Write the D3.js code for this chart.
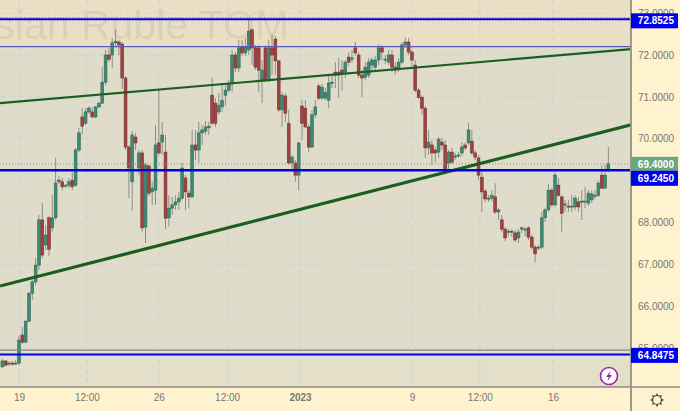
<!DOCTYPE html>
<html>
<head>
<meta charset="utf-8">
<script src="https://cdn.jsdelivr.net/npm/d3@7"></script>
<style>
  html, body { margin: 0; padding: 0; background: #fff2cf; }
  svg { display: block; font-family: "Liberation Sans", Arial, sans-serif; }
</style>
</head>
<body>
<div id="chart-container"></div>
<script>
// Candle values, one slot per bar
const opens = [
  64.55,64.69,64.62,64.64,64.62,64.64,65.31,65.14,65.64,66.31,
  66.58,66.98,68.06,67.46,68.11,67.87,68.11,68.97,68.97,68.87,
  68.89,69.01,68.89,69.73,70.52,70.37,70.64,70.64,70.52,70.76,
  70.85,71.35,72.00,72.00,72.29,72.31,72.26,71.45,69.80,68.97,
  70.04,69.30,69.66,67.89,69.35,68.73,68.77,69.90,69.92,69.68,
  68.11,68.34,68.42,68.49,68.58,69.06,68.70,68.61,69.85,69.73,
  70.14,70.18,70.26,71.04,70.85,70.64,70.76,71.04,71.16,71.31,
  72.00,71.69,72.19,72.05,72.12,72.60,72.17,72.17,71.40,72.17,
  71.40,72.17,72.38,71.86,70.69,71.02,70.37,69.42,69.42,69.13,
  70.78,70.73,70.28,69.80,70.57,71.26,70.97,70.97,70.92,71.33,
  71.59,71.52,71.64,71.59,71.95,71.90,72.17,72.00,71.52,71.47,
  71.52,71.76,71.71,71.88,72.17,71.88,71.83,72.00,71.71,71.69,
  71.83,72.24,72.31,72.07,71.76,71.16,70.99,70.73,69.78,69.85,
  69.73,69.68,69.92,69.85,69.42,69.68,69.56,69.59,69.66,69.85,
  69.90,69.94,69.66,69.54,69.08,68.75,68.56,68.58,68.61,68.25,
  68.06,67.84,67.77,67.77,67.75,67.63,67.84,67.82,67.87,67.65,
  67.41,67.39,67.41,68.11,68.30,68.77,68.42,68.89,68.61,68.42,
  68.39,68.37,68.37,68.49,68.49,68.49,68.46,68.54,68.63,68.65,
  69.13,68.82,69.25
];
const closes = [
  64.69,64.59,64.64,64.62,64.64,65.19,65.14,65.64,66.31,66.58,
  66.98,68.06,67.22,67.70,67.36,68.11,68.94,69.01,68.85,68.89,
  68.97,68.85,69.73,70.14,70.30,70.64,70.73,70.52,70.76,70.85,
  71.35,72.00,71.90,72.29,72.33,72.24,71.45,69.80,69.30,70.09,
  69.90,69.66,67.87,69.37,68.70,68.82,69.85,69.66,70.09,68.10,
  68.34,68.42,68.49,68.58,69.30,68.73,68.61,69.85,69.73,70.14,
  70.21,70.28,70.30,70.37,70.37,70.80,70.92,71.16,71.31,72.00,
  71.69,72.17,72.05,72.19,72.57,72.17,71.71,71.64,71.64,71.40,
  72.17,72.00,71.86,70.69,71.04,70.61,69.42,69.56,69.13,69.90,
  70.37,70.28,69.80,70.57,70.76,70.97,71.23,71.11,71.33,71.35,
  71.52,71.59,71.57,71.83,71.83,71.93,72.05,71.52,71.45,71.71,
  71.83,71.88,71.88,72.17,72.07,71.90,72.00,71.71,71.64,71.83,
  72.24,72.31,72.07,71.88,71.16,70.99,70.73,69.78,69.92,69.66,
  69.66,69.99,69.85,69.25,69.68,69.44,69.59,69.61,69.80,69.78,
  70.21,69.66,69.56,69.13,68.73,68.56,68.58,68.65,68.25,68.30,
  67.84,67.63,67.79,67.79,67.58,67.77,67.87,67.84,67.65,67.41,
  67.25,67.41,68.11,68.30,68.77,68.42,69.13,68.65,68.22,68.44,
  68.37,68.39,68.58,68.37,68.51,68.51,68.70,68.68,68.65,68.94,
  68.82,69.13,69.40
];
const highs = [
  64.74,64.71,64.69,64.69,64.71,65.29,65.50,65.67,66.34,66.62,
  67.15,68.18,68.46,67.94,68.15,68.65,69.54,69.11,69.06,68.92,
  69.06,69.20,69.78,70.26,70.73,70.73,70.78,70.76,70.78,70.88,
  71.71,72.12,72.17,72.41,72.62,72.36,72.31,71.50,69.85,70.18,
  70.14,69.73,69.73,69.42,69.37,68.97,70.33,71.19,70.40,70.09,
  68.65,68.61,68.65,68.73,69.42,69.13,68.77,70.21,70.21,70.40,
  70.33,70.42,70.40,71.45,70.97,71.09,71.31,71.28,71.40,72.12,
  72.07,72.36,72.36,72.41,72.84,72.64,72.24,72.24,71.88,72.24,
  72.36,72.48,72.45,71.88,71.11,71.09,70.69,69.61,69.49,69.92,
  70.92,70.92,70.33,70.69,70.92,71.31,71.31,71.21,71.52,71.52,
  71.83,71.93,71.88,71.88,72.07,72.12,72.31,72.07,71.64,71.83,
  71.93,71.95,71.98,72.26,72.24,72.00,72.12,72.12,71.83,71.93,
  72.31,72.43,72.41,72.12,71.88,71.21,71.04,70.78,70.21,69.97,
  69.80,70.04,70.02,69.97,69.73,69.78,69.66,69.68,69.92,69.90,
  70.37,70.21,69.73,69.61,69.25,68.80,68.65,68.77,68.94,68.34,
  68.18,67.89,67.84,67.84,67.82,67.84,67.91,67.89,67.91,67.70,
  67.46,67.46,68.25,68.34,68.92,68.82,69.20,69.06,68.65,68.54,
  68.54,68.65,68.65,68.61,68.77,68.85,68.77,68.77,68.77,68.99,
  69.37,69.37,69.80
];
const lows = [
  64.52,64.57,64.57,64.57,64.59,64.59,65.09,65.12,65.62,66.15,
  66.50,66.86,67.15,67.34,67.20,67.77,68.06,68.92,68.77,68.82,
  68.82,68.77,68.85,69.68,70.11,70.33,70.59,70.49,70.49,70.73,
  70.83,71.28,71.83,71.69,72.21,72.00,71.19,69.73,68.58,68.27,
  69.73,69.13,67.77,67.51,68.63,68.42,68.42,69.61,69.61,67.84,
  67.91,68.18,68.30,68.30,68.54,68.30,68.34,68.58,69.49,69.42,
  69.85,70.09,70.09,70.33,70.28,70.57,70.64,70.78,71.11,71.11,
  71.59,71.59,71.98,71.98,72.00,71.76,71.64,71.11,70.85,71.35,
  71.35,71.52,71.52,70.64,70.28,70.40,69.37,69.25,68.97,68.77,
  69.97,70.26,69.68,69.78,70.49,70.92,70.92,70.92,70.73,71.21,
  71.21,70.97,71.16,71.45,71.74,71.81,71.98,71.45,70.99,71.40,
  71.45,71.59,71.64,71.76,71.88,71.78,71.76,71.59,71.52,71.59,
  71.78,72.17,72.00,71.74,71.11,70.95,70.57,69.54,69.61,69.37,
  69.44,69.54,69.73,69.20,69.23,69.40,69.49,69.54,69.59,69.73,
  69.85,69.61,69.49,69.01,68.25,68.49,68.49,68.51,68.20,68.06,
  67.77,67.55,67.67,67.65,67.53,67.51,67.75,67.67,67.58,67.36,
  67.05,67.34,67.36,68.01,68.25,68.37,68.37,68.61,67.77,68.25,
  68.25,68.25,68.30,68.25,68.06,68.34,68.39,68.46,68.56,68.61,
  68.80,68.80,69.20
];

const priceTicks = [73, 72, 71, 70, 69, 68, 67, 66, 65];
const hiddenPriceTick = 69; // sits behind the two price tags
const timeTickBars = [5, 25.4, 47, 67.5, 89.4, 123, 143.4, 165.4];
const timeTickLabels = ["19", "12:00", "26", "12:00", "2023", "9", "12:00", "16"];

const blueLevels = [72.8525, 69.245, 64.8475];
const thinLevels = [72.2, 64.95];
const lastPrice = 69.4;
const dottedTop = 72.89;
const trendThin = [[-0.7, 70.85], [188.8, 72.14]];
const trendWide = [[-0.7, 66.48], [188.8, 70.33]];

const width = 680;
const height = 411;
const plotW = 631;
const plotH = 387;
const upColor = "#3f8a74";
const downColor = "#a8403f";

const x = d3.scaleLinear().domain([0, 183]).range([2.35, 611.7]);
const y = d3.scaleLinear().domain([72, 65]).range([55, 348]);

const svg = d3.select("#chart-container").append("svg")
    .attr("width", width)
    .attr("height", height);

svg.append("defs").append("clipPath").attr("id", "plot-clip")
    .append("rect").attr("width", plotW).attr("height", plotH);

// backgrounds
svg.append("rect").attr("width", width).attr("height", height).attr("fill", "#fff2cf");
const plot = svg.append("g").attr("clip-path", "url(#plot-clip)");
plot.append("rect").attr("width", plotW).attr("height", plotH).attr("fill", "#dfddc9");
plot.append("rect").attr("width", plotW).attr("height", y(thinLevels[0])).attr("fill", "#eadfc4");
plot.append("rect").attr("y", y(thinLevels[1])).attr("width", plotW)
    .attr("height", plotH - y(thinLevels[1])).attr("fill", "#e3dfc8");

// watermark, its start runs off the left edge as in the app
plot.append("text")
    .attr("x", 289).attr("y", 39)
    .attr("text-anchor", "end")
    .attr("font-size", 41)
    .attr("fill", "#6e6a5c").attr("fill-opacity", 0.13)
    .text("Russian Ruble TOM");

// grid
plot.selectAll(".hgrid").data(priceTicks).enter().append("line")
    .attr("x1", 0).attr("x2", plotW)
    .attr("y1", d => y(d)).attr("y2", d => y(d))
    .attr("stroke", "#cdd0d6").attr("stroke-dasharray", "5,4");
plot.selectAll(".vgrid").data(timeTickBars).enter().append("line")
    .attr("x1", d => x(d)).attr("x2", d => x(d))
    .attr("y1", 0).attr("y2", plotH)
    .attr("stroke", "#cdd0d6").attr("stroke-dasharray", "5,4");

// candles
const bars = d3.range(opens.length);
plot.selectAll(".wick").data(bars).enter().append("line")
    .attr("x1", i => x(i)).attr("x2", i => x(i))
    .attr("y1", i => y(highs[i])).attr("y2", i => y(lows[i]))
    .attr("stroke", "#8e8e88").attr("stroke-width", 1);
plot.selectAll(".bar").data(bars).enter().append("rect")
    .attr("x", i => x(i) - 1.4)
    .attr("y", i => y(Math.max(opens[i], closes[i])))
    .attr("width", 2.8)
    .attr("height", i => Math.max(1, Math.abs(y(opens[i]) - y(closes[i]))))
    .attr("fill", i => closes[i] >= opens[i] ? upColor : downColor)
    .attr("stroke", i => closes[i] >= opens[i] ? "#2d6b58" : "#6e3030")
    .attr("stroke-width", 0.6);

// levels
plot.selectAll(".thin").data(thinLevels).enter().append("line")
    .attr("x1", 0).attr("x2", plotW)
    .attr("y1", d => y(d)).attr("y2", d => y(d))
    .attr("stroke", (d, i) => i === 0 ? "#5a5ab8" : "#85857f")
    .attr("stroke-width", 1.3);
plot.append("line")
    .attr("x1", 0).attr("x2", plotW)
    .attr("y1", y(dottedTop)).attr("y2", y(dottedTop))
    .attr("stroke", "#b0a36a").attr("stroke-width", 1.5).attr("stroke-dasharray", "1.5,1.5");
plot.append("line")
    .attr("x1", 0).attr("x2", plotW)
    .attr("y1", y(lastPrice)).attr("y2", y(lastPrice))
    .attr("stroke", "#6ba583").attr("stroke-dasharray", "1,2");

// trend lines
const trend = d3.line().x(d => x(d[0])).y(d => y(d[1]));
plot.append("path").attr("d", trend(trendThin)).attr("fill", "none")
    .attr("stroke", "#1a5e20").attr("stroke-width", 2.2);
plot.append("path").attr("d", trend(trendWide)).attr("fill", "none")
    .attr("stroke", "#1a5e20").attr("stroke-width", 3.2);

plot.selectAll(".blue").data(blueLevels).enter().append("line")
    .attr("x1", 0).attr("x2", plotW)
    .attr("y1", d => y(d)).attr("y2", d => y(d))
    .attr("stroke", "#0000f0").attr("stroke-width", (d, i) => i === 1 ? 2.5 : 2);

// axes
const axisRight = d3.axisRight(y).tickValues(priceTicks).tickSize(0).tickPadding(7)
    .tickFormat(d3.format(".4f"));
const axisBottom = d3.axisBottom(x).tickValues(timeTickBars).tickSize(0).tickPadding(7)
    .tickFormat((d, i) => timeTickLabels[i]);

const gy = svg.append("g").attr("transform", `translate(${plotW},0)`).call(axisRight);
const gx = svg.append("g").attr("transform", `translate(0,${plotH})`).call(axisBottom);
gy.select(".domain").remove();
gx.select(".domain").remove();
gy.selectAll("text").attr("font-size", 10).attr("fill", "#77776f").attr("font-family", "Liberation Sans");
gx.selectAll("text").attr("font-size", 10).attr("fill", "#77776f").attr("font-family", "Liberation Sans");
gx.selectAll("text").filter((d, i) => timeTickLabels[i] === "2023").attr("font-weight", "bold");
gy.selectAll(".tick").filter(d => d === hiddenPriceTick).remove();

svg.append("line").attr("x1", 0).attr("x2", width).attr("y1", plotH).attr("y2", plotH)
    .attr("stroke", "#5f5f55").attr("stroke-width", 1);
svg.append("line").attr("x1", plotW).attr("x2", plotW).attr("y1", 0).attr("y2", height)
    .attr("stroke", "#9a9a8c").attr("stroke-width", 2);

// price tags, the last two are pushed apart as in the app
function priceTag(price, centre, fill) {
    svg.append("rect")
        .attr("x", plotW).attr("y", centre - 7.5)
        .attr("width", 47).attr("height", 15)
        .attr("fill", fill);
    svg.append("text")
        .attr("x", 674).attr("y", centre + 3.6)
        .attr("text-anchor", "end")
        .attr("font-size", 10).attr("font-weight", "bold")
        .attr("fill", "#ffffff")
        .text(d3.format(".4f")(price));
}
priceTag(blueLevels[0], y(blueLevels[0]) + 1.5, "#0000f0");
priceTag(lastPrice, y(lastPrice) + 0.5, "#6ba583");
priceTag(blueLevels[1], y(blueLevels[1]) + 8, "#0000f0");
priceTag(blueLevels[2], y(blueLevels[2]) + 1, "#0000f0");

// lightning badge
const badge = svg.append("g").attr("transform", "translate(609,376)");
badge.append("circle").attr("r", 8.5).attr("fill", "#ffffff")
    .attr("stroke", "#9c27b0").attr("stroke-width", 1.6);
badge.append("path").attr("d", "M1.5,-5 L-3,1 L-0.3,1 L-1.5,5 L3,-1 L0.3,-1 Z").attr("fill", "#9c27b0");

// settings gear
const gear = svg.append("g").attr("transform", "translate(657,400)")
    .attr("stroke", "#3a3a36").attr("fill", "none");
gear.append("circle").attr("r", 4.5).attr("stroke-width", 1.2);
gear.selectAll("line").data(d3.range(8)).enter().append("line")
    .attr("x1", i => 4.5 * Math.cos(i * Math.PI / 4))
    .attr("y1", i => 4.5 * Math.sin(i * Math.PI / 4))
    .attr("x2", i => 6.5 * Math.cos(i * Math.PI / 4))
    .attr("y2", i => 6.5 * Math.sin(i * Math.PI / 4))
    .attr("stroke-width", 1.3);
</script>
</body>
</html>
